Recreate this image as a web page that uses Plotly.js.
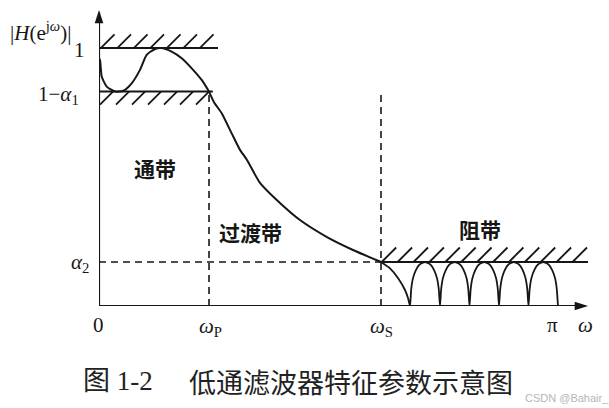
<!DOCTYPE html>
<html><head><meta charset="utf-8">
<script src="https://cdn.plot.ly/plotly-3.0.1.min.js"></script>
<style>html,body{margin:0;padding:0;background:#fff}#chart{width:609px;height:408px}</style>
</head><body><div id="chart"></div>
<script>
// ---- values (x in units of pi, y = |H|) ----
const LEVEL_ONE = 1.0;        // 1
const LEVEL_PASS = 0.831;     // 1 - alpha1
const LEVEL_STOP = 0.1705;    // alpha2
const OMEGA_P = 0.2397;
const OMEGA_S = 0.6144;
const OMEGA_PI = 1.0;
const X_END = 1.0654;
const Y_END = 1.147;

const xTickVals = [0, OMEGA_P, OMEGA_S, OMEGA_PI];
const xTickText = ['0', '<i>ω</i><sub>P</sub>', '<i>ω</i><sub>S</sub>', 'π'];

const passX = [0.0, 0.0022, 0.0059, 0.0168, 0.0349, 0.0529, 0.0712, 0.0893, 0.1039, 0.1220, 0.1351, 0.1584, 0.1802, 0.2020, 0.2237, 0.2397];
const passY = [0.96, 0.953, 0.889, 0.850, 0.831, 0.834, 0.863, 0.915, 0.973, 0.996, 1.000, 0.986, 0.960, 0.921, 0.876, 0.831];

const transX = [0.2397, 0.2505, 0.2673, 0.2891, 0.3072, 0.3224, 0.3508, 0.3943, 0.4379, 0.4967, 0.5534, 0.6144];
const transY = [0.831, 0.790, 0.747, 0.669, 0.605, 0.566, 0.477, 0.399, 0.333, 0.267, 0.217, 0.1705];

const stopX = [0.6144, 0.6340, 0.6521, 0.6667, 0.6732, 0.6776,
  0.6802, 0.6841, 0.6907, 0.6985, 0.7103, 0.7220, 0.7298, 0.7364, 0.7403, 0.7429,
  0.7455, 0.7493, 0.7558, 0.7635, 0.7751, 0.7866, 0.7943, 0.8008, 0.8046, 0.8072,
  0.8098, 0.8136, 0.8201, 0.8278, 0.8394, 0.8509, 0.8586, 0.8651, 0.8689, 0.8715,
  0.8741, 0.8779, 0.8843, 0.8920, 0.9036, 0.9152, 0.9229, 0.9293, 0.9331, 0.9357,
  0.9383, 0.9421, 0.9486, 0.9563, 0.9679, 0.9794, 0.9871, 0.9936, 0.9974, 1.0];
const stopY = [0.1705, 0.146, 0.107, 0.062, 0.031, 0.0,
  0.065, 0.108, 0.140, 0.161, 0.1705, 0.161, 0.140, 0.108, 0.065, 0.0,
  0.065, 0.108, 0.140, 0.161, 0.1705, 0.161, 0.140, 0.108, 0.065, 0.0,
  0.065, 0.108, 0.140, 0.161, 0.1705, 0.161, 0.140, 0.108, 0.065, 0.0,
  0.065, 0.108, 0.140, 0.161, 0.1705, 0.161, 0.140, 0.108, 0.065, 0.0,
  0.065, 0.108, 0.140, 0.161, 0.1705, 0.161, 0.140, 0.108, 0.065, 0.0];

const bandLabels = ['通带', '过渡带', '阻带'];
const bandLabelX = [0.122, 0.329, 0.830];
const bandLabelY = [0.535, 0.287, 0.298];

const captionNum = '图 1-2';
const captionText = '低通滤波器特征参数示意图';
const watermark = 'CSDN @Bahair_';

// ---- layout geometry ----
const W = 609, H = 408;
const M = {l: 99, r: 21, t: 10, b: 102};
const PX_X = (W - M.l - M.r) / X_END;   // px per x unit
const PX_Y = (H - M.t - M.b) / Y_END;   // px per y unit
const INK = '#161616';

// hatch ticks
function hatch(x0, x1, level, spacing, size, above, offset) {
  const xs = [], ys = [];
  const dx = size / PX_X, dy = size / PX_Y, step = spacing / PX_X;
  for (let x = x0 + offset / PX_X; x + (above ? dx : 0) <= x1 + 1e-9; x += step) {
    if (above) { xs.push(x, x + dx, null); ys.push(level, level + dy, null); }
    else { xs.push(x, x - dx, null); ys.push(level, level - dy, null); }
  }
  return {xs, ys};
}
const hUp = hatch(0, 0.2593, LEVEL_ONE, 16.5, 13.5, true, 2);
const hLo = hatch(0, 0.2480, LEVEL_PASS, 16, 13, false, 14);
const hSt = hatch(OMEGA_S, X_END, LEVEL_STOP, 15.9, 14.5, true, 0.7);
const hx = [...hUp.xs, ...hLo.xs, ...hSt.xs];
const hy = [...hUp.ys, ...hLo.ys, ...hSt.ys];

const dashStyle = {color: INK, width: 1.6, dash: '7px,5px'};
const solid = {color: INK, width: 2};

const traces = [
  {x: [0, OMEGA_S], y: [LEVEL_STOP, LEVEL_STOP], mode: 'lines', line: dashStyle},
  {x: [OMEGA_P, OMEGA_P], y: [0, LEVEL_PASS], mode: 'lines', line: dashStyle},
  {x: [OMEGA_S, OMEGA_S], y: [0, LEVEL_PASS], mode: 'lines', line: dashStyle},
  {x: [0, 0.2593], y: [LEVEL_ONE, LEVEL_ONE], mode: 'lines', line: solid},
  {x: [0, 0.2480], y: [LEVEL_PASS, LEVEL_PASS], mode: 'lines', line: solid},
  {x: [OMEGA_S, X_END], y: [LEVEL_STOP, LEVEL_STOP], mode: 'lines', line: solid},
  {x: hx, y: hy, mode: 'lines', line: {color: INK, width: 1.8}, connectgaps: false},
  {x: passX, y: passY, mode: 'lines', line: {color: INK, width: 2, shape: 'spline', smoothing: 0.6}},
  {x: transX, y: transY, mode: 'lines', line: {color: INK, width: 2, shape: 'spline', smoothing: 0.6}},
  {x: stopX, y: stopY, mode: 'lines', line: {color: INK, width: 1.8, shape: 'spline', smoothing: 0.5}},
  {x: [0, X_END - 0.005], y: [0, 0], mode: 'lines', line: {color: INK, width: 2.2}},
  {x: [0, 0], y: [0, Y_END - 0.01], mode: 'lines', line: {color: INK, width: 2.2}},
  {x: [X_END, 0], y: [0, Y_END], mode: 'markers', cliponaxis: false,
   marker: {symbol: 'arrow', size: 14, angle: [90, 0], color: INK, line: {width: 0}}}
];

const serif = 'Liberation Serif, Times New Roman, Noto Sans CJK SC, serif';
const cjk = 'Noto Sans CJK SC, sans-serif';
function dataText(text, x, y, opts) {
  return Object.assign({xref: 'x', yref: 'y', x, y, text, showarrow: false,
    font: {family: serif, size: 21, color: INK}, xanchor: 'center', yanchor: 'middle'}, opts || {});
}
function pixText(text, px, py, opts) {
  return Object.assign({xref: 'paper', yref: 'paper', x: 0, y: 0, xshift: px - M.l, yshift: (H - M.b) - py,
    text, showarrow: false, font: {family: serif, size: 21, color: INK}, xanchor: 'left', yanchor: 'middle'}, opts || {});
}

const annotations = [];
const tickShift = [[-1, -19], [1, -21], [0, -21], [-5, -19]];
xTickVals.forEach((v, i) => annotations.push(dataText(xTickText[i], v, 0, {xshift: tickShift[i][0], yshift: tickShift[i][1]})));
annotations.push(dataText('<i>ω</i>', X_END, 0, {xshift: -3, yshift: -19}));
annotations.push(dataText('1', 0, LEVEL_ONE, {xanchor: 'right', xshift: -12, yshift: -2}));
annotations.push(dataText('1−<i>α</i><sub>1</sub>', 0, LEVEL_PASS, {xanchor: 'right', xshift: -18, yshift: -3}));
annotations.push(dataText('<i>α</i><sub>2</sub>', 0, LEVEL_STOP, {xanchor: 'right', xshift: -8, yshift: -1}));
annotations.push(dataText('|<i>H</i>(e<sup>j<i>ω</i></sup>)|', 0, 1.065, {xanchor: 'right', xshift: -26}));
bandLabels.forEach((t, i) => annotations.push(dataText(t, bandLabelX[i], bandLabelY[i],
  {font: {family: cjk, size: 21, color: INK, weight: 'bold'}})));
annotations.push(pixText(captionNum, 81, 381, {font: {family: serif, size: 27, color: '#222'}}));
annotations.push(pixText(captionText, 187, 381, {font: {family: cjk, size: 27, color: '#222'}}));
annotations.push(pixText(watermark, 523, 398, {font: {family: 'Liberation Sans, Arial, sans-serif', size: 11, color: '#b5b5b5'}}));

const axisOff = {range: [0, X_END], showgrid: false, zeroline: false, showticklabels: false, showline: false, ticks: '', fixedrange: true};
const layout = {
  width: W, height: H, margin: M, showlegend: false,
  paper_bgcolor: '#fff', plot_bgcolor: '#fff',
  xaxis: Object.assign({}, axisOff, {range: [0, X_END]}),
  yaxis: Object.assign({}, axisOff, {range: [0, Y_END]}),
  annotations
};
Plotly.newPlot('chart', traces, layout, {staticPlot: true, displayModeBar: false});
</script></body></html>
